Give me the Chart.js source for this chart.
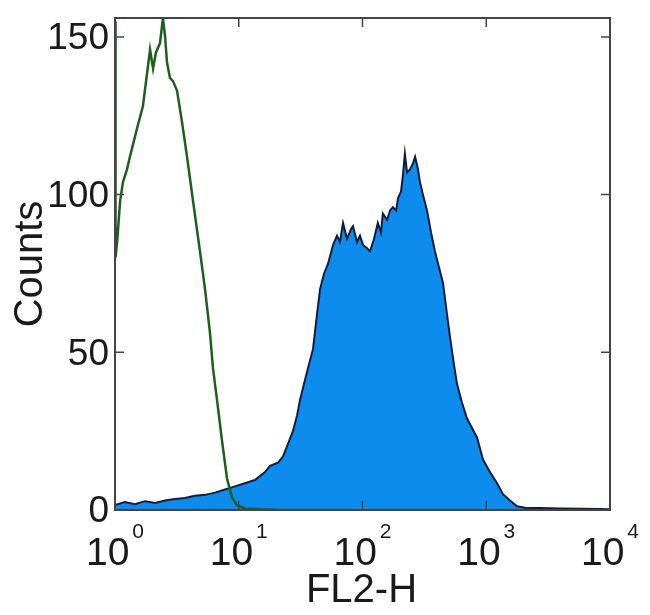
<!DOCTYPE html>
<html>
<head>
<meta charset="utf-8">
<script src="https://cdn.jsdelivr.net/npm/chart.js@4"></script>
<style>
  html, body { margin: 0; padding: 0; background: #fff; }
  #wrap { width: 650px; height: 615px; }
</style>
</head>
<body>
<div id="wrap"><canvas id="chart1"></canvas></div>
<script>
// FL2-H intensity (x) and counts (y)
const stainedX = [1.0, 1.20, 1.45, 1.75, 2.11, 2.54, 3.05, 3.68, 4.43, 5.34, 6.43, 7.74, 9.33, 11.2, 13.5, 16.3, 17.9, 20.8, 22.8, 25.0,
  27.4, 29.6, 31.3, 33.7, 36.3, 39.8, 42.9, 45.4, 48.9, 52.6, 57.8, 62.2, 65.8, 69.6, 74.9, 80.7, 83.8, 90.3, 95.4, 101,
  109, 115, 124, 133, 141, 146, 158, 167, 176, 187, 194, 205, 212, 220, 229, 242, 256, 266, 281, 291,
  308, 332, 358, 385, 415, 447, 482, 509, 549, 580, 637, 699, 767, 842, 941, 1073, 1222, 1366, 1556, 1773,
  2056, 2719, 3945, 5723, 8303, 10000]
const stainedY = [1.6, 2.5, 1.8, 2.8, 2.2, 3.0, 3.5, 3.8, 4.5, 4.8, 5.5, 6.5, 7.5, 8.5, 9.5, 12, 14, 15, 17, 21,
  25, 30, 35, 40, 45, 51, 62, 70, 75, 78, 84, 87, 85, 91, 86, 89, 90, 85, 87, 84,
  83, 82, 86, 91, 88, 94, 92, 95, 96, 95, 99, 101, 106, 113, 107, 108, 110, 112, 108, 104,
  100, 95, 88, 82, 77, 72, 62, 55, 46, 40, 34, 29, 26, 23, 16, 12, 8.5, 5, 3, 1.2,
  0.7, 0.6, 0.5, 0.4, 0.3, 0.2]

const isotypeX = [1.0, 1.01, 1.04, 1.10, 1.16, 1.25, 1.32, 1.40, 1.53, 1.68, 1.81, 1.92, 2.03, 2.14, 2.31, 2.44, 2.54, 2.63, 2.78, 2.94,
  3.17, 3.48, 3.82, 4.27, 4.86, 5.34, 5.86, 6.19, 6.67, 7.32, 8.04, 8.82, 9.68, 11.2, 14.9, 21.5]
const isotypeY = [155, 80, 85, 98, 104, 108, 112, 116, 122, 128, 138, 146, 140, 145, 148, 156, 150, 142, 137, 136,
  133, 123, 112, 98, 82, 70, 56, 45, 35, 22, 10, 4, 1.5, 0.5, 0.2, 0]

const yTicks = [0, 50, 100, 150]
const xTicks = [1, 10, 100, 1000, 10000]
const xTickExp = ['0', '1', '2', '3', '4']

const FONT = '"Liberation Sans", Arial, sans-serif'

function pts(xs, ys) {
  return xs.map((v, i) => ({x: v, y: ys[i]}))
}

const framePlugin = {
  id: 'frame',
  afterDatasetsDraw(chart) {
    const ctx = chart.ctx
    const a = chart.chartArea
    const x = chart.scales.x
    const y = chart.scales.y
    ctx.save()
    ctx.strokeStyle = '#444'
    ctx.lineWidth = 2
    ctx.strokeRect(a.left, a.top, a.right - a.left, a.bottom - a.top)

    ctx.fillStyle = '#1a1a1a'
    ctx.lineWidth = 1.5
    // y ticks, inward on both sides
    yTicks.forEach(v => {
      const py = y.getPixelForValue(v)
      ctx.beginPath()
      ctx.moveTo(a.left, py); ctx.lineTo(a.left + 9, py)
      ctx.moveTo(a.right, py); ctx.lineTo(a.right - 9, py)
      ctx.stroke()
      ctx.font = '37px ' + FONT
      ctx.textAlign = 'right'
      ctx.textBaseline = 'middle'
      ctx.fillText(String(v), a.left - 6, py + 2)
    })
    // x ticks, inward top and bottom, labels as 10^n
    xTicks.forEach((v, i) => {
      const px = x.getPixelForValue(v)
      ctx.beginPath()
      ctx.moveTo(px, a.bottom); ctx.lineTo(px, a.bottom - 9)
      ctx.moveTo(px, a.top); ctx.lineTo(px, a.top + 9)
      ctx.stroke()
      ctx.font = '39px ' + FONT
      const w1 = ctx.measureText('10').width
      ctx.font = '21px ' + FONT
      const w2 = ctx.measureText(xTickExp[i]).width
      const left = px - (w1 + w2 + 3) / 2
      ctx.textAlign = 'left'
      ctx.textBaseline = 'alphabetic'
      ctx.font = '39px ' + FONT
      ctx.fillText('10', left, a.bottom + 55)
      ctx.font = '21px ' + FONT
      ctx.fillText(xTickExp[i], left + w1 + 3, a.bottom + 28)
    })

    // axis titles
    ctx.font = '40px ' + FONT
    ctx.textAlign = 'center'
    ctx.textBaseline = 'alphabetic'
    ctx.fillText('FL2-H', (a.left + a.right) / 2 - 1, a.bottom + 92)
    ctx.translate(42, (a.top + a.bottom) / 2)
    ctx.rotate(-Math.PI / 2)
    ctx.fillText('Counts', 0, 0)
    ctx.restore()
  }
}

function createBarChart() {
  const data = {
    datasets: [{
      label: 'Isotype',
      data: pts(isotypeX, isotypeY),
      borderColor: 'rgb(30, 95, 30)',
      borderWidth: 2.5,
      fill: false,
      pointRadius: 0,
      order: 0
    }, {
      label: 'FL2-H',
      data: pts(stainedX, stainedY),
      borderColor: 'rgb(10, 30, 60)',
      backgroundColor: 'rgb(14, 140, 238)',
      borderWidth: 2,
      fill: 'origin',
      pointRadius: 0,
      order: 1
    }]
  }

  const config = {
    type: 'line',
    data: data,
    plugins: [framePlugin],
    options: {
      responsive: false,
      animation: false,
      layout: { padding: { left: 115, top: 18, right: 40, bottom: 105 } },
      plugins: { legend: { display: false }, tooltip: { enabled: false } },
      scales: {
        x: { type: 'logarithmic', min: 1, max: 10000, display: false },
        y: { min: 0, max: 156, display: false }
      }
    }
  }

  new Chart(document.getElementById('chart1'), config)
}

const c = document.getElementById('chart1')
c.width = 650
c.height = 615
c.style.width = '650px'
c.style.height = '615px'
createBarChart()
</script>
</body>
</html>
